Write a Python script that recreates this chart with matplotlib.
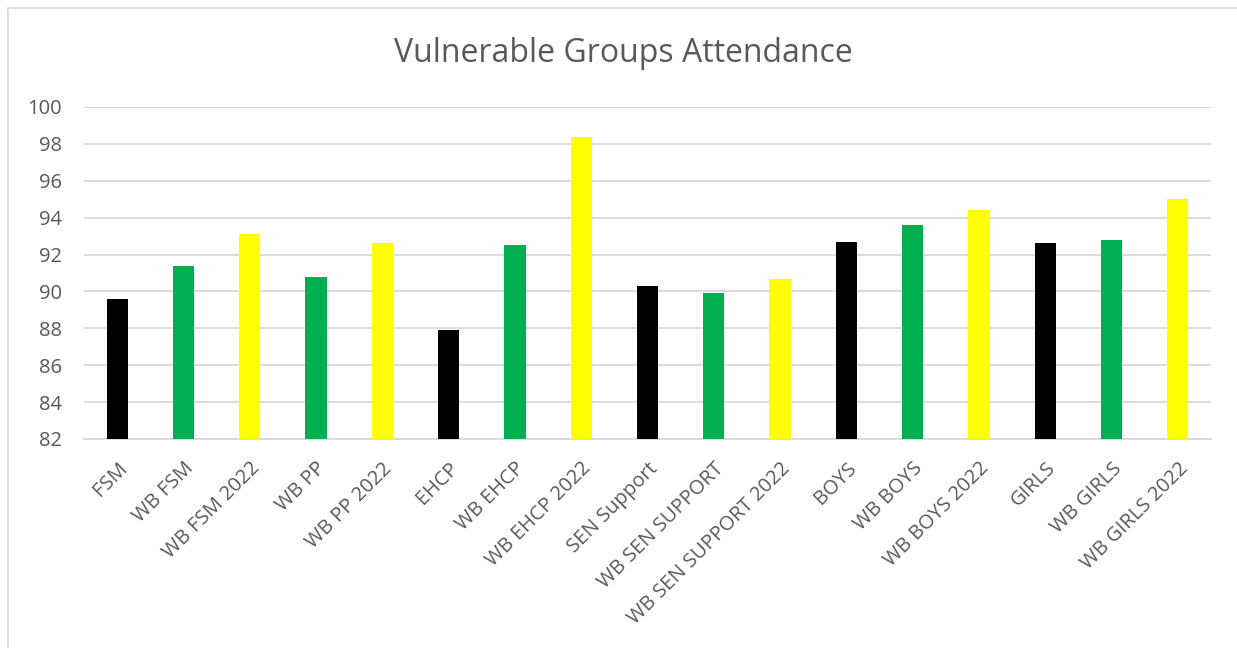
import matplotlib
matplotlib.use("Agg")
import matplotlib.pyplot as plt
import matplotlib.transforms as mtrans
from matplotlib.lines import Line2D

categories = ["FSM", "WB FSM", "WB FSM 2022", "WB PP", "WB PP 2022", "EHCP",
              "WB EHCP", "WB EHCP 2022", "SEN Support", "WB SEN SUPPORT",
              "WB SEN SUPPORT 2022", "BOYS", "WB BOYS", "WB BOYS 2022",
              "GIRLS", "WB GIRLS", "WB GIRLS 2022"]
values = [89.6, 91.4, 93.1, 90.8, 92.6, 87.9, 92.5, 98.4, 90.3, 89.9,
          90.7, 92.7, 93.6, 94.4, 92.6, 92.8, 95.0]
bar_colors = ["#000000", "#00B050", "#FFFF00", "#00B050", "#FFFF00", "#000000",
              "#00B050", "#FFFF00", "#000000", "#00B050", "#FFFF00", "#000000",
              "#00B050", "#FFFF00", "#000000", "#00B050", "#FFFF00"]
title = "Vulnerable Groups Attendance"
y_ticks = [82, 84, 86, 88, 90, 92, 94, 96, 98, 100]

plt.rcParams['font.family'] = ['Open Sans', 'DejaVu Sans']

W, H = 1237, 648
fig = plt.figure(figsize=(W / 100, H / 100), dpi=100)
fig.patch.set_facecolor("white")

# chart border (top and left visible)
fig.add_artist(Line2D([8 / W, 1.0], [1 - 8 / H, 1 - 8 / H], transform=fig.transFigure,
                      color="#D9D9D9", lw=1.2))
fig.add_artist(Line2D([8 / W, 8 / W], [0, 1 - 8 / H], transform=fig.transFigure,
                      color="#D9D9D9", lw=1.2))

left, right, top, bottom = 84, 1211, 107, 439
ax = fig.add_axes([left / W, 1 - bottom / H, (right - left) / W, (bottom - top) / H])

x = list(range(len(categories)))
ax.bar(x, values, width=0.32, color=bar_colors, zorder=3)
ax.set_xlim(-0.5, len(categories) - 0.5)
ax.set_ylim(82, 100)
ax.set_yticks(y_ticks)
ax.set_yticklabels([str(t) for t in y_ticks], fontsize=14.5, color="#595959")
ax.set_xticks(x)
ax.set_xticklabels(categories, rotation=45, ha="right", va="top",
                   rotation_mode="anchor", fontsize=14.5, color="#595959")
offset = mtrans.ScaledTranslation(7 / 100, 0, fig.dpi_scale_trans)
for lbl in ax.get_xticklabels():
    lbl.set_transform(lbl.get_transform() + offset)
ax.tick_params(axis="both", length=0)
ax.tick_params(axis="y", pad=16)
ax.tick_params(axis="x", pad=14)
ax.grid(axis="y", color="#D9D9D9", lw=1.3, zorder=0)
for s in ["top", "right", "left"]:
    ax.spines[s].set_visible(False)
ax.spines["bottom"].set_color("#D9D9D9")
ax.spines["bottom"].set_linewidth(1.3)
ax.set_axisbelow(True)

fig.text(623.5 / W, 1 - 53 / H, title, ha="center", va="center", fontsize=23,
         color="#595959")

fig.savefig("out.png", dpi=100)
